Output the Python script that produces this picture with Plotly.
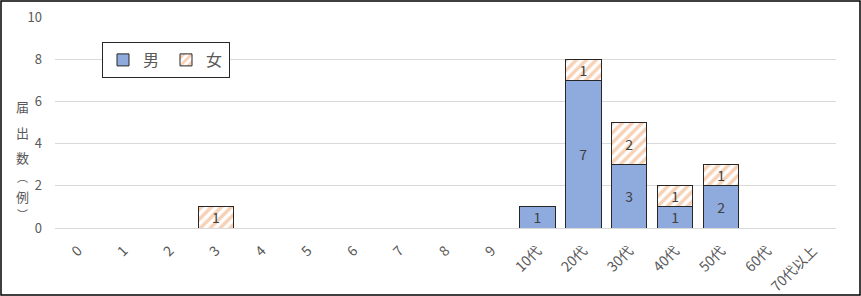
import plotly.graph_objects as go

categories = ["0", "1", "2", "3", "4", "5", "6", "7", "8", "9",
              "10代", "20代", "30代", "40代", "50代", "60代", "70代以上"]
male = [0, 0, 0, 0, 0, 0, 0, 0, 0, 0, 1, 7, 3, 1, 2, 0, 0]
female = [0, 0, 0, 1, 0, 0, 0, 0, 0, 0, 0, 1, 2, 1, 1, 0, 0]
y_ticks = [0, 2, 4, 6, 8, 10]
y_title_chars = ["届", "出", "数", "︵", "例", "︶"]

FONT = "Noto Sans CJK JP, Noto Sans, sans-serif"
L, R, T, B = 55, 25, 17, 68
W, H = 861, 296
pw, ph = W - L - R, H - T - B

fig = go.Figure()
fig.add_trace(go.Bar(
    x=categories, y=male, name="男",
    marker=dict(color="#8faadc", line=dict(color="#262626", width=1)),
    text=[str(v) if v else "" for v in male],
    textposition="inside", insidetextanchor="middle", textangle=0,
    constraintext="none",
    textfont=dict(color="#404040", size=14, family=FONT),
    width=0.77,
))
fig.add_trace(go.Bar(
    x=categories, y=female, name="女",
    marker=dict(color="white", line=dict(color="#262626", width=1),
                pattern=dict(shape="/", fgcolor="#eea46e", bgcolor="white",
                             size=7, solidity=0.5, fillmode="overlay")),
    text=[str(v) if v else "" for v in female],
    textposition="inside", insidetextanchor="middle", textangle=0,
    constraintext="none",
    textfont=dict(color="#404040", size=14, family=FONT),
    width=0.77,
))

fig.update_layout(
    barmode="stack",
    width=W, height=H,
    margin=dict(l=L, r=R, t=T, b=B, pad=0, autoexpand=False),
    paper_bgcolor="white", plot_bgcolor="white",
    font=dict(family=FONT, color="#595959", size=13),
    legend=dict(
        orientation="h", x=(102 - L) / pw, y=(H - B - 42) / ph,
        xanchor="left", yanchor="top",
        bordercolor="#262626", borderwidth=1, bgcolor="white",
        font=dict(size=16, color="#595959", family=FONT),
        itemwidth=30, entrywidth=18, entrywidthmode="pixels",
        traceorder="normal",
    ),
    xaxis=dict(
        type="category", tickangle=-45, showgrid=False, automargin=False,
        showline=True, linecolor="#d9d9d9", linewidth=1,
        tickfont=dict(size=14, color="#595959"), ticks="",
        ticklabelstandoff=8,
    ),
    yaxis=dict(
        range=[0, 10], tickvals=y_ticks, showgrid=True, gridcolor="#d9d9d9",
        gridwidth=1, zeroline=True, zerolinecolor="#d9d9d9", zerolinewidth=1,
        tickfont=dict(size=13, color="#595959"), ticks="", ticklen=0,
        showline=False, ticklabelstandoff=12, automargin=False,
    ),
    showlegend=True,
)

title_y = [107, 132, 157, 177, 196, 214]
title_size = [13, 13, 13, 11, 13, 11]
for ch, py, fs in zip(y_title_chars, title_y, title_size):
    fig.add_annotation(
        text=ch, xref="paper", yref="paper",
        x=(22 - L) / pw, y=(H - B - py) / ph,
        xanchor="center", yanchor="middle",
        showarrow=False, font=dict(size=fs, color="#595959", family=FONT),
    )

fig.add_shape(
    type="rect", xref="paper", yref="paper",
    x0=(1 - L) / pw, x1=(W - 1 - L) / pw,
    y0=(H - B - (H - 1)) / ph, y1=(H - B - 1) / ph,
    line=dict(color="black", width=1.5), layer="above",
)

fig.write_html("out.html")
